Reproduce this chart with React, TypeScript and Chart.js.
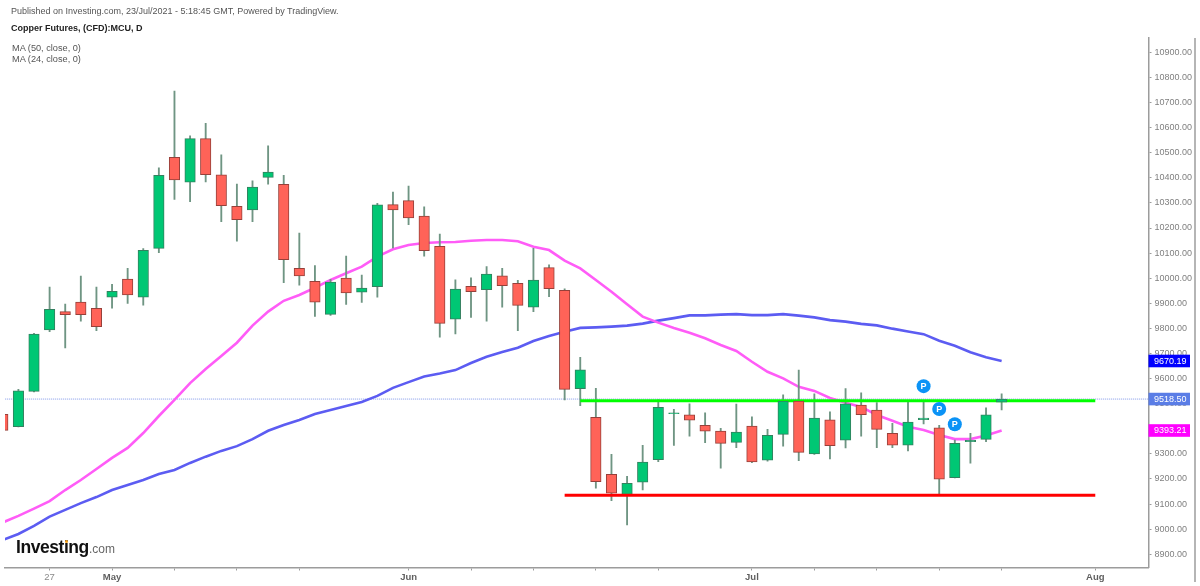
import React, { useEffect, useRef } from "react";
import { Chart, registerables } from "chart.js";

Chart.register(...registerables);

const FONT = '"Liberation Sans", Arial, sans-serif';

const firstBar = -1;
const opens = [9458, 9408, 9549, 9794, 9867, 9905, 9880, 9924, 9997, 9924, 10119, 10482, 10383, 10556, 10412, 10286, 10272, 10402, 10374, 10039, 9988, 9856, 10000, 9944, 9966, 10293, 10309, 10248, 10127, 9837, 9968, 9954, 10009, 9980, 9885, 10042, 9952, 9560, 9446, 9219, 9135, 9187, 9277, 9460, 9456, 9414, 9391, 9346, 9411, 9275, 9378, 9510, 9300, 9436, 9355, 9495, 9475, 9382, 9335, 9436, 9404, 9205, 9349, 9358, 9506];
const highs = [9459, 9557, 9780, 9965, 9897, 10008, 9965, 9976, 10039, 10118, 10440, 10746, 10567, 10617, 10492, 10375, 10388, 10527, 10410, 10180, 10050, 9996, 10088, 10012, 10298, 10343, 10367, 10284, 10176, 9994, 10001, 10046, 10039, 9992, 10119, 10053, 9958, 9685, 9561, 9298, 9211, 9334, 9515, 9478, 9499, 9464, 9402, 9498, 9448, 9398, 9535, 9634, 9539, 9468, 9560, 9543, 9504, 9422, 9508, 9508, 9414, 9355, 9382, 9484, 9539];
const lows = [9391, 9407, 9547, 9787, 9722, 9829, 9791, 9881, 9900, 9893, 10102, 10314, 10305, 10384, 10225, 10148, 10225, 10375, 9982, 9972, 9848, 9852, 9896, 9904, 9924, 10121, 10213, 10088, 9765, 9778, 9844, 9829, 9885, 9791, 9867, 9926, 9515, 9492, 9163, 9114, 9017, 9156, 9269, 9334, 9371, 9345, 9243, 9325, 9265, 9271, 9331, 9273, 9298, 9280, 9324, 9371, 9325, 9325, 9312, 9419, 9135, 9204, 9263, 9349, 9475];
const closes = [9394, 9551, 9777, 9876, 9855, 9855, 9807, 9948, 9933, 10111, 10410, 10392, 10556, 10412, 10289, 10233, 10363, 10423, 10074, 10009, 9905, 9985, 9941, 9961, 10292, 10272, 10240, 10110, 9820, 9957, 9946, 10016, 9970, 9892, 9993, 9958, 9557, 9635, 9189, 9144, 9183, 9267, 9486, 9464, 9434, 9391, 9342, 9387, 9268, 9374, 9510, 9306, 9443, 9333, 9499, 9456, 9398, 9335, 9427, 9443, 9199, 9342, 9354, 9456, 9518.5];

const ma24 = [9027, 9053, 9082, 9112, 9156, 9196, 9240, 9284, 9324, 9383, 9451, 9515, 9582, 9638, 9690, 9743, 9811, 9867, 9910, 9933, 9962, 9993, 10020, 10046, 10086, 10115, 10132, 10140, 10143, 10144, 10149, 10152, 10152, 10147, 10125, 10112, 10070, 10039, 9993, 9946, 9896, 9847, 9823, 9802, 9783, 9761, 9734, 9710, 9667, 9627, 9601, 9567, 9551, 9523, 9504, 9487, 9455, 9432, 9408, 9395, 9375, 9359, 9359, 9373, 9393.21];
const ma50 = [8957, 8981, 9013, 9050, 9077, 9104, 9128, 9156, 9176, 9196, 9220, 9236, 9264, 9289, 9312, 9331, 9359, 9392, 9415, 9435, 9459, 9475, 9491, 9507, 9531, 9563, 9586, 9608, 9620, 9634, 9662, 9687, 9706, 9723, 9750, 9770, 9787, 9802, 9804, 9807, 9811, 9819, 9831, 9841, 9852, 9852, 9855, 9857, 9853, 9853, 9857, 9851, 9844, 9833, 9827, 9818, 9812, 9799, 9788, 9777, 9751, 9731, 9705, 9685, 9670.19];

const supportLevel = 9135;
const supportBars = [35, 69];
const resistanceLevel = 9512;
const resistanceBars = [36, 69];
const lastPrice = 9518.5;

const pivotBars = [58, 59, 60];
const pivotValues = [9570, 9479, 9418];

const yTicks = [8900, 9000, 9100, 9200, 9300, 9400, 9500, 9600, 9700, 9800, 9900, 10000, 10100, 10200, 10300, 10400, 10500, 10600, 10700, 10800, 10900];
const xTickBars = [2, 6, 10, 14, 18, 25, 29, 33, 37, 41, 47, 51, 55, 59, 63, 69];
const xTickLabels = ["27", "May", "", "", "", "Jun", "", "", "", "", "Jul", "", "", "", "", "Aug"];

const flagValues = [9670.19, 9518.5, 9393.21];
const flagColors = ["#0000ff", "#5a7de6", "#ff00ff"];

const GREEN = "#00c774";
const RED = "#ff6358";
const GREEN_EDGE = "#33805f";
const RED_EDGE = "#96403a";
const WICK = "#6f9583";
const AXIS = "#9c9c9c";
const PLOT_LEFT = 5;

const overlayPlugin = {
  id: "overlay",
  afterLayout(chart: any) {
    const x = chart.scales.x;
    const area = chart.chartArea;
    area.left = PLOT_LEFT;
    area.width = area.right - PLOT_LEFT;
    x.left = PLOT_LEFT;
    x.width = area.width;
    x.right = area.right;
    x.configure();
  },
  afterDatasetsDraw(chart: any) {
    const { ctx, scales } = chart;
    ctx.save();
    ctx.font = `bold 9px ${FONT}`;
    ctx.fillStyle = "#ffffff";
    ctx.textAlign = "center";
    ctx.textBaseline = "middle";
    pivotBars.forEach((b, i) => {
      ctx.fillText("P", scales.x.getPixelForValue(b), scales.y.getPixelForValue(pivotValues[i]) + 0.5);
    });
    ctx.restore();
  },
  afterDraw(chart: any) {
    const { ctx, scales, chartArea } = chart;
    ctx.save();
    ctx.strokeStyle = AXIS;
    ctx.lineWidth = 1.5;
    ctx.beginPath();
    ctx.moveTo(1195, chartArea.top);
    ctx.lineTo(1195, 582);
    ctx.stroke();
    ctx.font = `9px ${FONT}`;
    ctx.textBaseline = "middle";
    ctx.textAlign = "left";
    flagValues.forEach((v, i) => {
      const y = scales.y.getPixelForValue(v);
      ctx.fillStyle = flagColors[i];
      ctx.fillRect(chartArea.right, y - 6.3, 41.5, 12.6);
      ctx.fillStyle = "#ffffff";
      ctx.fillText(v.toFixed(2), chartArea.right + 5.5, y + 0.5);
    });
    ctx.restore();
  },
};

function App() {
  const ref = useRef<HTMLCanvasElement | null>(null);

  useEffect(() => {
    const xy = (bars: number[], vals: number[]) => vals.map((v, i) => ({ x: bars[i], y: v }));
    const barIdx = opens.map((_, i) => firstBar + i);
    const isUp = (i: number) => closes[i] >= opens[i];

    const chart = new Chart(ref.current as HTMLCanvasElement, {
      type: "bar",
      plugins: [overlayPlugin],
      data: {
        datasets: [
          {
            type: "line",
            label: "Last price",
            data: [
              { x: -2, y: lastPrice },
              { x: 74, y: lastPrice },
            ],
            borderColor: "#7f97e8",
            borderWidth: 1,
            borderDash: [1, 1],
            pointRadius: 0,
            order: 6,
          },
          {
            type: "line",
            label: "MA (50, close, 0)",
            data: xy(barIdx, ma50),
            borderColor: "#5c5cf2",
            borderWidth: 2.6,
            pointRadius: 0,
            tension: 0,
            order: 5,
          },
          {
            type: "line",
            label: "MA (24, close, 0)",
            data: xy(barIdx, ma24),
            borderColor: "#ff5cf7",
            borderWidth: 2.6,
            pointRadius: 0,
            tension: 0,
            order: 4,
          },
          {
            type: "bar",
            label: "Wicks",
            data: barIdx.map((x, i) => ({ x, y: [lows[i], highs[i]] })),
            backgroundColor: WICK,
            barThickness: 1.2,
            grouped: false,
            order: 3,
          },
          {
            type: "line",
            label: "Resistance",
            data: resistanceBars.map((x) => ({ x, y: resistanceLevel })),
            borderColor: "#00ff00",
            borderWidth: 3,
            pointRadius: 0,
            order: 2.5,
          },
          {
            type: "bar",
            label: "Bodies",
            data: barIdx.map((x, i) => ({ x, y: [opens[i], closes[i]] })),
            backgroundColor: barIdx.map((_, i) => (isUp(i) ? GREEN : RED)),
            borderColor: barIdx.map((_, i) => (isUp(i) ? GREEN_EDGE : RED_EDGE)),
            borderWidth: 1,
            borderSkipped: false,
            barThickness: 10.5,
            grouped: false,
            order: 2,
          },
          {
            type: "line",
            label: "Support",
            data: supportBars.map((x) => ({ x, y: supportLevel })),
            borderColor: "#ff0000",
            borderWidth: 3,
            pointRadius: 0,
            order: 1,
          },
          {
            type: "line",
            label: "Pivots",
            data: xy(pivotBars, pivotValues),
            showLine: false,
            pointStyle: "circle",
            pointRadius: 7,
            pointBackgroundColor: "#0b93f6",
            pointBorderWidth: 0,
            order: 0,
          },
        ],
      } as any,
      options: {
        animation: false,
        responsive: false,
        devicePixelRatio: 1,
        layout: { padding: { left: 5, top: 38, right: 0, bottom: 0 } },
        plugins: { legend: { display: false }, title: { display: false }, tooltip: { enabled: false } },
        scales: {
          x: {
            type: "linear",
            offset: false,
            min: -0.8585,
            max: 72.41,
            grid: { offset: false, drawOnChartArea: false, drawTicks: true, tickLength: 3, color: AXIS },
            border: { color: AXIS, width: 1.5 },
            afterBuildTicks: (s: any) => {
              s.ticks = xTickBars.map((value) => ({ value }));
            },
            afterFit: (s: any) => {
              s.height = 18.5;
            },
            ticks: {
              autoSkip: false,
              maxRotation: 0,
              padding: 1,
              callback: (v: any) => xTickLabels[xTickBars.indexOf(Number(v))] ?? "",
              color: (c: any) => (c.tick && c.tick.label === "27" ? "#8a8a8a" : "#5f5f5f"),
              font: (c: any) => ({
                family: FONT,
                size: 9.5,
                weight: c.tick && c.tick.label === "27" ? "normal" : "bold",
              }),
            },
          },
          y: {
            type: "linear",
            position: "right",
            min: 8847.4,
            max: 10957,
            grid: { drawOnChartArea: false, drawTicks: true, tickLength: 3, color: AXIS },
            border: { color: AXIS, width: 1.5 },
            afterBuildTicks: (s: any) => {
              s.ticks = yTicks.map((value) => ({ value }));
            },
            afterFit: (s: any) => {
              s.width = 51.5;
            },
            ticks: {
              padding: 3,
              color: "#808080",
              font: { family: FONT, size: 9 },
              callback: (v: any) => Number(v).toFixed(2),
            },
          },
        },
      } as any,
    });
    return () => chart.destroy();
  }, []);

  const text = (top: number, left: number, style: React.CSSProperties, s: string) => (
    <div style={{ position: "absolute", top, left, whiteSpace: "nowrap", fontFamily: FONT, lineHeight: 1, ...style }}>{s}</div>
  );

  return (
    <div style={{ position: "fixed", left: 0, top: 0, width: 1200, height: 586, background: "#fff", overflow: "hidden" }}>
      <canvas ref={ref} width={1200} height={586} style={{ display: "block", width: 1200, height: 586 }} />
      {text(6.5, 11, { fontSize: 9, color: "#555" }, "Published on Investing.com, 23/Jul/2021 - 5:18:45 GMT, Powered by TradingView.")}
      {text(23.5, 11, { fontSize: 9, fontWeight: 700, color: "#222" }, "Copper Futures, (CFD):MCU, D")}
      {text(44, 12, { fontSize: 9.2, color: "#555" }, "MA (50, close, 0)")}
      {text(55, 12, { fontSize: 9.2, color: "#555" }, "MA (24, close, 0)")}
      {text(539, 16, { fontSize: 17.5, fontWeight: 700, color: "#111", letterSpacing: -0.45 }, "Investing")}
      {text(543, 89, { fontSize: 12, color: "#666" }, ".com")}
      <div style={{ position: "absolute", left: 65, top: 540, width: 3, height: 3, borderRadius: 2, background: "#f7a21b" }} />
    </div>
  );
}

export default App;
